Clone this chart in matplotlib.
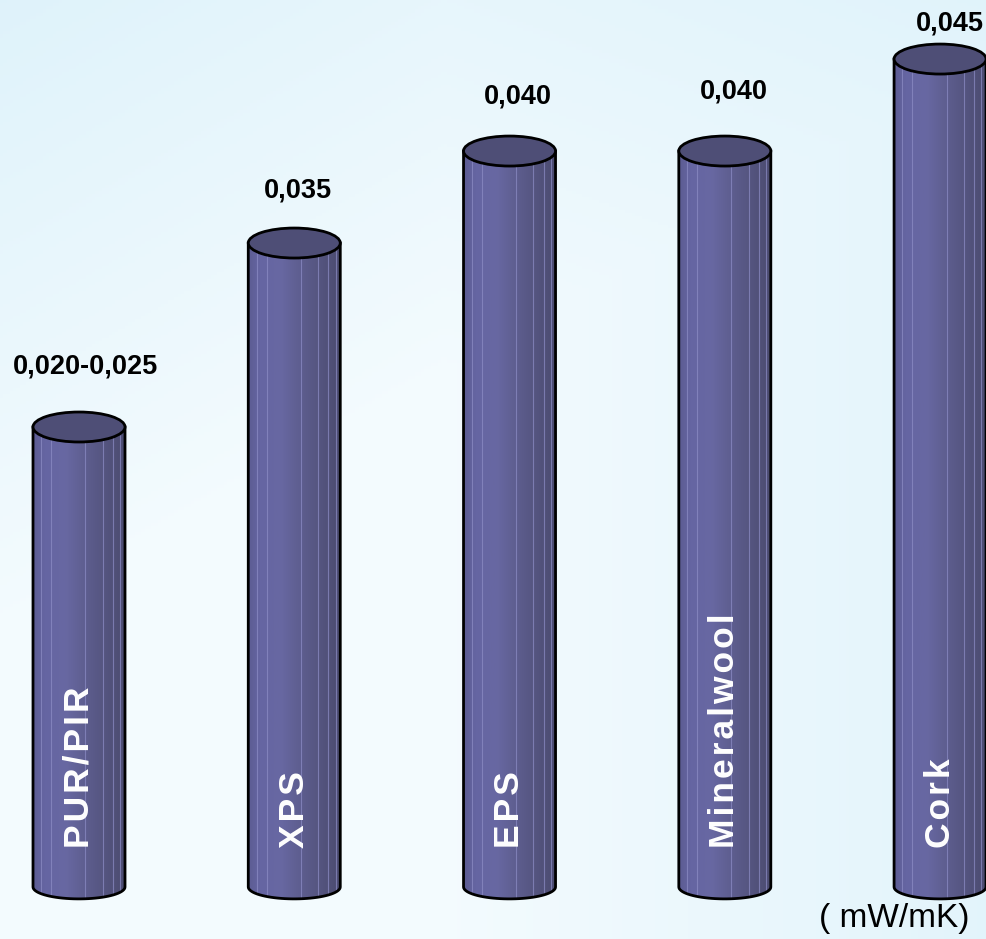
import numpy as np
import matplotlib.pyplot as plt
from matplotlib.patches import Ellipse, Polygon
from matplotlib.colors import LinearSegmentedColormap

# Thermal conductivity of insulation materials
materials = ["PUR/PIR", "XPS", "EPS", "Mineralwool", "Cork"]
conductivity = [0.025, 0.035, 0.040, 0.040, 0.045]
value_labels = ["0,020-0,025", "0,035", "0,040", "0,040", "0,045"]
unit_label = "( mW/mK)"

# label nudges in pixels (lift above cap, shift right)
label_lift = [48, 40, 42, 47, 23]
label_shift = [6, 4, 8, 9, 10]

fam = ["Liberation Sans", "DejaVu Sans"]

fig = plt.figure(figsize=(9.87, 9.39), dpi=100)
ax = fig.add_axes([0, 0, 1, 1])
x_lo, x_hi = -0.367, 4.218
y_lo, y_hi = -0.00283, 0.04821
ax.set_xlim(x_lo, x_hi)
ax.set_ylim(y_lo, y_hi)
ax.axis("off")

# light blue background wash
gx, gy = np.meshgrid(np.linspace(0, 1, 300), np.linspace(0, 1, 300))
w = np.clip(1 - gy * 1.5 - gx * 0.9, 0, 1) * 0.85 + np.clip((gx - 0.45) * 1.8, 0, 1) * 0.7
w = np.clip(w, 0, 1)[..., None]
blue = np.array([0.86, 0.945, 0.98])
white = np.array([0.955, 0.985, 0.997])
bg = white * (1 - w) + blue * w
ax.imshow(bg, extent=(x_lo, x_hi, y_lo, y_hi), origin="upper", aspect="auto", zorder=0)

body_cmap = LinearSegmentedColormap.from_list(
    "body", [(0.0, "#5c5c92"), (0.12, "#6565a2"), (0.35, "#6868a2"),
             (0.6, "#5c5c8c"), (1.0, "#4b4b6f")])
grad = np.linspace(0, 1, 200)[None, :]

bar_w = 0.4274
cap_h = 0.00163
base_h = 0.0013
stripes = [0.09, 0.2, 0.57, 0.76, 0.87, 0.95]

for i, (name, h, lab) in enumerate(zip(materials, conductivity, value_labels)):
    x0, x1 = i - bar_w / 2, i + bar_w / 2
    t = np.linspace(np.pi, 2 * np.pi, 40)
    bottom = np.column_stack([i + bar_w / 2 * np.cos(t), base_h / 2 * np.sin(t)])
    pts = np.vstack([[x0, h], bottom, [x1, h]])

    clip = Polygon(pts, closed=True, fc="none", ec="none")
    ax.add_patch(clip)
    im = ax.imshow(grad, extent=(x0, x1, -base_h, h), aspect="auto",
                   cmap=body_cmap, zorder=2)
    im.set_clip_path(clip)
    lines = ax.vlines([x0 + f * bar_w for f in stripes], -base_h, h,
                      color="#8d8dc6", lw=0.8, alpha=0.7, zorder=3)
    lines.set_clip_path(clip)

    ax.add_patch(Polygon(pts, closed=True, fc="none", ec="black", lw=2, zorder=4))
    ax.add_patch(Ellipse((i, h), bar_w, cap_h, fc="#4e4e76", ec="black", lw=2, zorder=5))

    ax.annotate(lab, (i, h), xytext=(label_shift[i] * 0.72, label_lift[i] * 0.72),
                textcoords="offset points", ha="center", va="bottom",
                fontsize=19.5, fontweight="bold", family=fam, zorder=6)

    # letter-spaced name running up the bar
    ax.annotate("\u200a".join(name), (i, 0), xytext=(0, 39 * 0.72),
                textcoords="offset points", ha="center", va="bottom",
                rotation=90, color="white", fontsize=25.5, fontweight="bold",
                family=fam, zorder=6)

fig.text(894 / 987, 12 / 939, unit_label, ha="center", va="baseline",
         fontsize=24, family=fam)

plt.savefig("out.png", dpi=100)
